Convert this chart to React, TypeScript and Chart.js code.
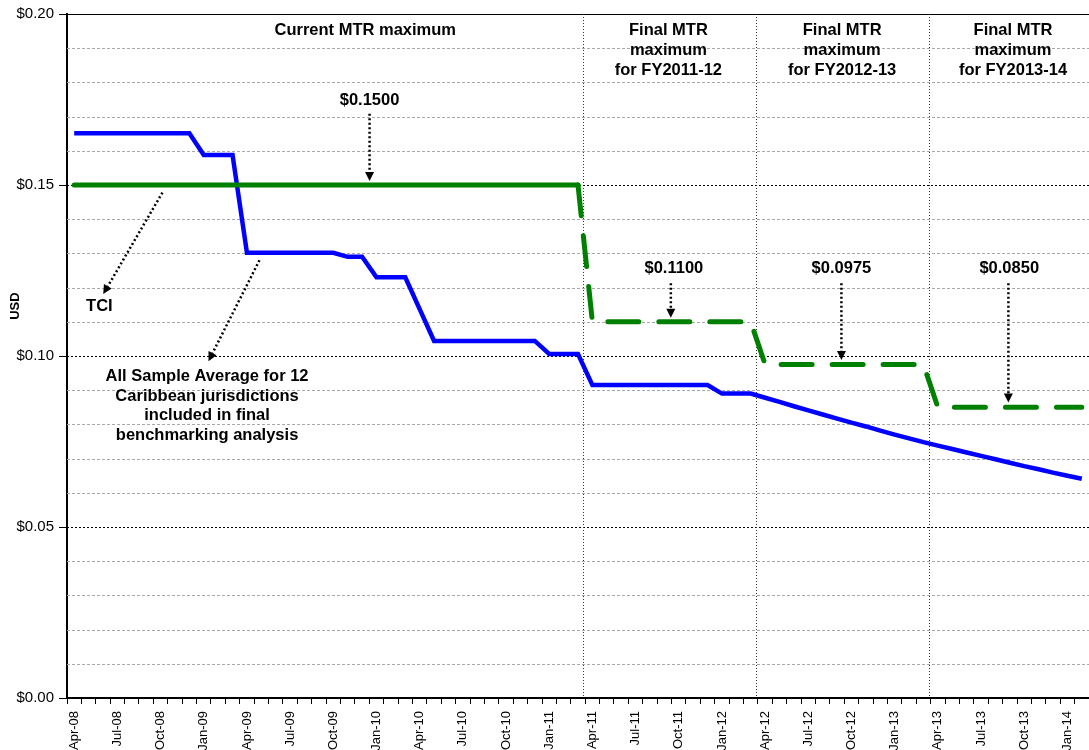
import React, { useEffect, useRef } from 'react';
import { Chart, registerables } from 'chart.js';

Chart.register(...registerables);

// ---------- DATA ----------
const months = [
  'Apr-08', 'May-08', 'Jun-08', 'Jul-08', 'Aug-08', 'Sep-08', 'Oct-08', 'Nov-08', 'Dec-08',
  'Jan-09', 'Feb-09', 'Mar-09', 'Apr-09', 'May-09', 'Jun-09', 'Jul-09', 'Aug-09', 'Sep-09', 'Oct-09', 'Nov-09', 'Dec-09',
  'Jan-10', 'Feb-10', 'Mar-10', 'Apr-10', 'May-10', 'Jun-10', 'Jul-10', 'Aug-10', 'Sep-10', 'Oct-10', 'Nov-10', 'Dec-10',
  'Jan-11', 'Feb-11', 'Mar-11', 'Apr-11', 'May-11', 'Jun-11', 'Jul-11', 'Aug-11', 'Sep-11', 'Oct-11', 'Nov-11', 'Dec-11',
  'Jan-12', 'Feb-12', 'Mar-12', 'Apr-12', 'May-12', 'Jun-12', 'Jul-12', 'Aug-12', 'Sep-12', 'Oct-12', 'Nov-12', 'Dec-12',
  'Jan-13', 'Feb-13', 'Mar-13', 'Apr-13', 'May-13', 'Jun-13', 'Jul-13', 'Aug-13', 'Sep-13', 'Oct-13', 'Nov-13', 'Dec-13',
  'Jan-14', 'Feb-14',
];

// TCI (Current MTR maximum, then final MTR maxima)
const tciValues = [
  0.15, 0.15, 0.15, 0.15, 0.15, 0.15, 0.15, 0.15, 0.15,
  0.15, 0.15, 0.15, 0.15, 0.15, 0.15, 0.15, 0.15, 0.15, 0.15, 0.15, 0.15,
  0.15, 0.15, 0.15, 0.15, 0.15, 0.15, 0.15, 0.15, 0.15, 0.15, 0.15, 0.15,
  0.15, 0.15, 0.15, 0.11, 0.11, 0.11, 0.11, 0.11, 0.11, 0.11, 0.11, 0.11,
  0.11, 0.11, 0.11, 0.0975, 0.0975, 0.0975, 0.0975, 0.0975, 0.0975, 0.0975, 0.0975, 0.0975,
  0.0975, 0.0975, 0.0975, 0.085, 0.085, 0.085, 0.085, 0.085, 0.085, 0.085, 0.085, 0.085,
  0.085, 0.085,
];

// All Sample Average for 12 Caribbean jurisdictions
const averageValues = [
  0.1651, 0.1651, 0.1651, 0.1651, 0.1651, 0.1651, 0.1651, 0.1651, 0.1651,
  0.1588, 0.1588, 0.1588, 0.1302, 0.1302, 0.1302, 0.1302, 0.1302, 0.1302, 0.1302, 0.1290, 0.1290,
  0.1230, 0.1230, 0.1230, 0.1137, 0.1044, 0.1044, 0.1044, 0.1044, 0.1044, 0.1044, 0.1044, 0.1044,
  0.1006, 0.1006, 0.1006, 0.0915, 0.0915, 0.0915, 0.0915, 0.0915, 0.0915, 0.0915, 0.0915, 0.0915,
  0.0890, 0.0890, 0.0890, 0.0878, 0.0866, 0.0853, 0.0841, 0.0829, 0.0817, 0.0805, 0.0794, 0.0782,
  0.0770, 0.0759, 0.0748, 0.0738, 0.0728, 0.0718, 0.0708, 0.0698, 0.0688, 0.0678, 0.0669, 0.0659,
  0.0650, 0.0641,
];

// months at which a new MTR period starts (vertical dividers)
const periodStarts = ['Apr-11', 'Apr-12', 'Apr-13'];

// annotation labels: text lines, anchor (category index, value)
const labelTexts = [
  ['Current MTR maximum'],
  ['Final MTR', 'maximum', 'for FY2011-12'],
  ['Final MTR', 'maximum', 'for FY2012-13'],
  ['Final MTR', 'maximum', 'for FY2013-14'],
  ['$0.1500'],
  ['$0.1100'],
  ['$0.0975'],
  ['$0.0850'],
  ['TCI'],
  ['All Sample Average for 12', 'Caribbean jurisdictions', 'included in final', 'benchmarking analysis'],
];
const labelIndex = [20.22, 41.28, 53.35, 65.22, 20.52, 41.66, 53.3, 64.96, 1.75, 9.23];
const labelValue = [0.1953, 0.1953, 0.1953, 0.1953, 0.1748, 0.1256, 0.1256, 0.1256, 0.1146, 0.0939];

// arrows: from (index, value) to (index, value)
const arrowFromIndex = [20.52, 41.45, 53.3, 64.9, 6.13, 12.87];
const arrowFromValue = [0.1708, 0.1213, 0.1213, 0.1213, 0.1478, 0.128];
const arrowToIndex = [20.52, 41.45, 53.3, 64.9, 2.02, 9.33];
const arrowToValue = [0.1512, 0.1112, 0.0988, 0.0864, 0.1181, 0.0985];

const FONT = '"Liberation Sans", Arial, Helvetica, sans-serif';

const isMajor = (v: number) => Math.abs(v * 20 - Math.round(v * 20)) < 1e-6;

const gridPlugin = {
  id: 'customGrid',
  beforeDatasetsDraw(chart: any) {
    const { ctx, chartArea: a, scales } = chart;
    const x = scales.x;
    const y = scales.y;
    ctx.save();
    ctx.lineWidth = 1;
    y.ticks.forEach((t: any) => {
      const v = t.value;
      if (v <= 0) return;
      const py = Math.round(y.getPixelForValue(v)) + 0.5;
      const major = isMajor(v);
      ctx.beginPath();
      if (v >= 0.1999) {
        ctx.setLineDash([]);
        ctx.strokeStyle = '#000';
      } else if (major) {
        ctx.setLineDash([2, 2]);
        ctx.strokeStyle = '#000';
      } else {
        ctx.setLineDash([3, 2]);
        ctx.strokeStyle = '#a8a8a8';
      }
      ctx.moveTo(a.left, py);
      ctx.lineTo(a.right, py);
      ctx.stroke();
    });
    ctx.setLineDash([1, 2]);
    ctx.strokeStyle = '#333';
    periodStarts.forEach((m) => {
      const i = months.indexOf(m);
      const px = Math.round((x.getPixelForValue(i - 1) + x.getPixelForValue(i)) / 2) - 1.5;
      ctx.beginPath();
      ctx.moveTo(px, a.top);
      ctx.lineTo(px, a.bottom);
      ctx.stroke();
    });
    ctx.restore();
  },
};

function drawArrow(ctx: CanvasRenderingContext2D, x1: number, y1: number, x2: number, y2: number) {
  const ang = Math.atan2(y2 - y1, x2 - x1);
  const head = 9;
  const half = 4.5;
  const bx = x2 - head * Math.cos(ang);
  const by = y2 - head * Math.sin(ang);
  ctx.setLineDash([2, 2.5]);
  ctx.lineWidth = 2.5;
  ctx.strokeStyle = '#000';
  ctx.beginPath();
  ctx.moveTo(x1, y1);
  ctx.lineTo(bx, by);
  ctx.stroke();
  ctx.setLineDash([]);
  ctx.fillStyle = '#000';
  ctx.beginPath();
  ctx.moveTo(x2, y2);
  ctx.lineTo(bx + half * Math.sin(ang), by - half * Math.cos(ang));
  ctx.lineTo(bx - half * Math.sin(ang), by + half * Math.cos(ang));
  ctx.closePath();
  ctx.fill();
}

const annotationPlugin = {
  id: 'annotations',
  afterDatasetsDraw(chart: any) {
    const { ctx, scales } = chart;
    const x = scales.x;
    const y = scales.y;
    ctx.save();
    ctx.fillStyle = '#000';
    ctx.font = `bold 16.5px ${FONT}`;
    ctx.textAlign = 'center';
    ctx.textBaseline = 'middle';
    labelTexts.forEach((lines, k) => {
      const px = x.getPixelForValue(labelIndex[k]);
      const py = y.getPixelForValue(labelValue[k]);
      const lh = lines.length > 3 ? 19.5 : 20;
      lines.forEach((ln, j) => ctx.fillText(ln, px, py + j * lh));
    });
    arrowFromIndex.forEach((_, k) => {
      drawArrow(
        ctx,
        x.getPixelForValue(arrowFromIndex[k]),
        y.getPixelForValue(arrowFromValue[k]),
        x.getPixelForValue(arrowToIndex[k]),
        y.getPixelForValue(arrowToValue[k])
      );
    });
    // y axis title
    ctx.save();
    ctx.font = `bold 13px ${FONT}`;
    ctx.translate(15, y.getPixelForValue(0.1146));
    ctx.rotate(-Math.PI / 2);
    ctx.fillText('USD', 0, 0);
    ctx.restore();
    ctx.restore();
  },
};

export default function App() {
  const ref = useRef<HTMLCanvasElement>(null);
  useEffect(() => {
    const firstDashed = tciValues.indexOf(0.11) - 1;
    const chart = new Chart(ref.current as HTMLCanvasElement, {
      type: 'line',
      data: {
        labels: months,
        datasets: [
          {
            label: 'TCI',
            data: tciValues,
            borderColor: '#008000',
            borderWidth: 5,
            borderCapStyle: 'round',
            pointRadius: 0,
            tension: 0,
            fill: false,
            segment: {
              borderDash: (c: any) => (c.p0DataIndex >= firstDashed ? [31, 20] : undefined),
            },
          } as any,
          {
            label: 'All Sample Average',
            data: averageValues,
            borderColor: '#0000ff',
            borderWidth: 4.5,
            pointRadius: 0,
            tension: 0,
            fill: false,
          },
        ],
      },
      options: {
        responsive: false,
        animation: false,
        devicePixelRatio: 1,
        layout: { padding: { top: 12, right: 0, left: 0, bottom: 0 } },
        plugins: {
          legend: { display: false },
          tooltip: { enabled: false },
        },
        scales: {
          x: {
            type: 'category',
            offset: true,
            afterFit: (s: any) => {
              s.height = 52;
              s.paddingRight = 0;
              s.paddingLeft = 0;
            },
            grid: {
              offset: true,
              drawOnChartArea: false,
              tickLength: 6,
              tickColor: '#000',
              tickWidth: 1,
              color: '#000',
            },
            border: { display: true, color: '#000', width: 2 },
            ticks: {
              autoSkip: false,
              minRotation: 90,
              maxRotation: 90,
              padding: 7,
              color: '#000',
              font: { family: FONT, size: 13 },
              callback: (_v: any, i: number) => (i % 3 === 0 ? months[i] : ''),
            },
          },
          y: {
            type: 'linear',
            min: 0,
            max: 0.2,
            afterFit: (s: any) => {
              s.width = 67;
            },
            grid: {
              drawOnChartArea: false,
              tickLength: 8,
              tickColor: (c: any) => (isMajor(c.tick.value) ? '#000' : 'rgba(0,0,0,0)'),
            },
            border: { display: true, color: '#000', width: 2 },
            ticks: {
              stepSize: 0.01,
              padding: 5,
              color: '#000',
              font: { family: FONT, size: 15 },
              callback: (v: any) => (isMajor(Number(v)) ? '$' + Number(v).toFixed(2) : ''),
            },
          },
        },
      },
      plugins: [gridPlugin, annotationPlugin],
    } as any);
    return () => chart.destroy();
  }, []);
  return (
    <div style={{ position: 'absolute', left: 0, top: 0, width: 1089, height: 750, background: '#fff' }}>
      <canvas ref={ref} width={1089} height={750} style={{ display: 'block' }} />
    </div>
  );
}
